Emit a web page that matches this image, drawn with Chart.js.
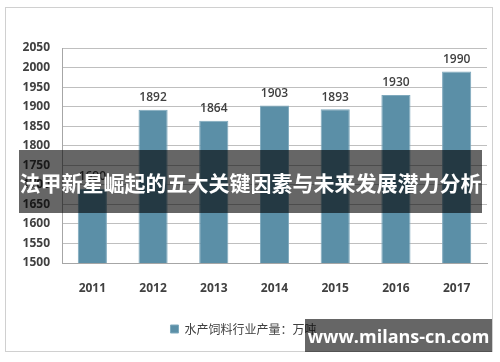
<!DOCTYPE html>
<html>
<head>
<meta charset="utf-8">
<script src="https://cdn.jsdelivr.net/npm/chart.js@4"></script>
<style>
  body { margin: 0; background: #fff; }
  #wrap { position: relative; width: 500px; height: 362px; }
  #banner {
    position: absolute; left: 19px; top: 150px; width: 463px; height: 63px;
    background: rgba(0,0,0,0.6); color: #fff;
    font: bold 21px "Noto Sans CJK SC", sans-serif;
    display: flex; align-items: center; justify-content: center; white-space: nowrap;
  }
  #mark {
    position: absolute; left: 305px; top: 319px; width: 187px; height: 33px;
    background: rgba(0,0,0,0.6); color: #fff;
    font: bold 18px "Open Sans", sans-serif;
    display: flex; align-items: center; justify-content: center;
  }
</style>
</head>
<body>
<div id="wrap">
  <canvas id="chart" width="500" height="362"></canvas>
  <div id="banner">法甲新星崛起的五大关键因素与未来发展潜力分析</div>
  <div id="mark">www.milans-cn.com</div>
</div>
<script>
// 数据
const years = ['2011', '2012', '2013', '2014', '2015', '2016', '2017'];
const output = [1690, 1892, 1864, 1903, 1893, 1930, 1990];
const seriesName = '水产饲料行业产量：万吨';
const barColor = '#5b8fa7';
const textColor = '#404040';

// 外框
const frame = {
  id: 'frame',
  beforeDraw(chart) {
    const c = chart.ctx;
    c.save();
    c.strokeStyle = '#d0d0d0';
    c.lineWidth = 1;
    c.strokeRect(5.5, 7.5, 487, 344);
    c.restore();
  }
};

// 柱顶数值
const valueLabels = {
  id: 'valueLabels',
  afterDatasetsDraw(chart) {
    const c = chart.ctx;
    const meta = chart.getDatasetMeta(0);
    c.save();
    c.fillStyle = textColor;
    c.font = '600 12px "Open Sans", sans-serif';
    c.textAlign = 'center';
    c.textBaseline = 'bottom';
    meta.data.forEach((bar, i) => {
      c.fillText(output[i], bar.x, bar.y - 6);
    });
    c.restore();
  }
};

new Chart(document.getElementById('chart'), {
  type: 'bar',
  data: {
    labels: years,
    datasets: [{
      label: seriesName,
      data: output,
      backgroundColor: barColor,
      borderColor: '#7fa9bd',
      borderWidth: 1,
      barPercentage: 0.48,
      categoryPercentage: 1
    }]
  },
  options: {
    responsive: false,
    animation: false,
    layout: { padding: { top: 48, right: 13, bottom: 17, left: 0 } },
    plugins: {
      tooltip: { enabled: false },
      legend: {
        position: 'bottom',
        labels: {
          color: textColor,
          font: { family: '"Noto Sans CJK SC", sans-serif', size: 12 },
          boxWidth: 8,
          boxHeight: 8,
          padding: 10
        }
      }
    },
    scales: {
      x: {
        grid: { display: false },
        border: { color: '#a6a6a6' },
        ticks: { color: textColor, font: { family: '"Open Sans", sans-serif', size: 12, weight: 'bold' }, padding: 10 },
        afterFit(scale) { scale.height = 50; }
      },
      y: {
        min: 1500,
        max: 2050,
        ticks: {
          stepSize: 50,
          color: textColor,
          font: { family: '"Open Sans", sans-serif', size: 12, weight: 'bold' },
          padding: 12,
          callback: (v) => String(v)
        },
        grid: { color: '#bfbfbf', drawTicks: false },
        border: { color: '#a6a6a6' },
        afterFit(scale) { scale.width = 62; }
      }
    }
  },
  plugins: [frame, valueLabels]
});
</script>
</body>
</html>
